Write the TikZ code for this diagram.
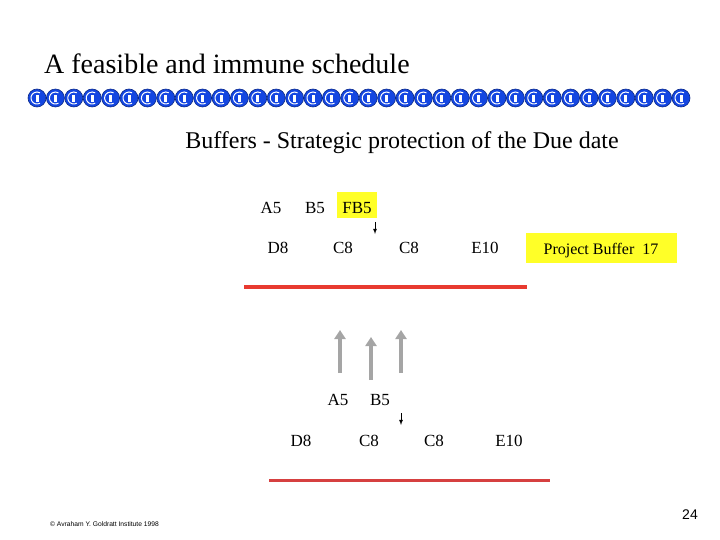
\documentclass[tikz,border=0pt]{standalone}
\usepackage{fontspec}
\setmainfont{Liberation Serif}
\setsansfont{Liberation Sans}
\definecolor{chainblue}{RGB}{20,70,225}
\definecolor{bufyellow}{RGB}{255,255,40}
\definecolor{lineRed}{RGB}{232,58,48}
\definecolor{lineRedB}{RGB}{214,64,64}
\definecolor{arrowGray}{RGB}{165,165,165}
\tikzset{
  task/.style={font=\fontsize{17}{19}\selectfont, inner sep=0pt},
  buffer/.style={task, fill=bufyellow, inner xsep=3pt, minimum height=26pt},
  tick/.style={-latex, thick},
  push/.style={arrowGray, line width=3.5pt, -{Triangle[length=9pt,width=11pt]}},
}
\usetikzlibrary{arrows.meta}
\begin{document}
\begin{tikzpicture}[x=1pt,y=-1pt]
\useasboundingbox (0,0) rectangle (720,540);
% Title and chain
\node[anchor=base west, font=\fontsize{28}{32}\selectfont, inner sep=0pt] (title) at (44,74) {A feasible and immune schedule};
\foreach \i in {0,...,35} {
  \filldraw[fill=chainblue, draw=chainblue!60!black, line width=0.6pt] (37+\i*18.4,98) circle (9);
  \draw[white, line width=1pt] (37+\i*18.4,98) ++(60:6) arc (60:300:6);
  \fill[white] (35.5+\i*18.4,95) rectangle ++(3,7);
}
\node[font=\fontsize{24}{28}\selectfont, inner sep=0pt] (sub) at (402,143) {Buffers - Strategic protection of the Due date};

% First schedule
\node[task] (a1) at (271,208) {A5};
\node[task] (b1) at (315,208) {B5};
\node[buffer, minimum width=40pt, text height=17pt, text depth=0pt, minimum height=26pt] (fb) at (357,205) {FB5};
\coordinate (t1) at (375,222);
\coordinate (t1e) at (375,234);
\draw[tick] (t1) -- (t1e);
\node[task] (d1) at (278,248) {D8};
\node[task] (c1) at (343,248) {C8};
\node[task] (c2) at (409,248) {C8};
\node[task] (e1) at (485,248) {E10};
\node[buffer, font=\fontsize{16}{18}\selectfont, minimum width=151pt, minimum height=30pt, text height=13pt, text depth=0pt] (pb) at (601,248) {Project Buffer~~17};
\coordinate (r1a) at (244,287);
\coordinate (r1b) at (527,287);
\draw[lineRed, line width=3.5pt] (r1a) -- (r1b);

% Pushed up
\coordinate (g1) at (340,373);
\coordinate (g1e) at (340,330);
\coordinate (g2) at (371,380);
\coordinate (g2e) at (371,337);
\coordinate (g3) at (401,373);
\coordinate (g3e) at (401,330);
\draw[push] (g1) -- (g1e);
\draw[push] (g2) -- (g2e);
\draw[push] (g3) -- (g3e);

% Second schedule
\node[task] (a2) at (338,400) {A5};
\node[task] (b2) at (380,400) {B5};
\coordinate (t2) at (401,413);
\coordinate (t2e) at (401,425);
\draw[tick] (t2) -- (t2e);
\node[task] (d2) at (301,441) {D8};
\node[task] (c3) at (369,441) {C8};
\node[task] (c4) at (434,441) {C8};
\node[task] (e2) at (509,441) {E10};
\coordinate (r2a) at (269,480);
\coordinate (r2b) at (550,480);
\draw[lineRedB, line width=3pt] (r2a) -- (r2b);

% Footer
\node[font=\sffamily\fontsize{6.7}{8}\selectfont, inner sep=0pt, anchor=west] (copy) at (50,524) {\copyright\ Avraham Y. Goldratt Institute 1998};
\node[font=\sffamily\fontsize{14}{16}\selectfont, inner sep=0pt] (page) at (690,515) {24};
\end{tikzpicture}
\end{document}
